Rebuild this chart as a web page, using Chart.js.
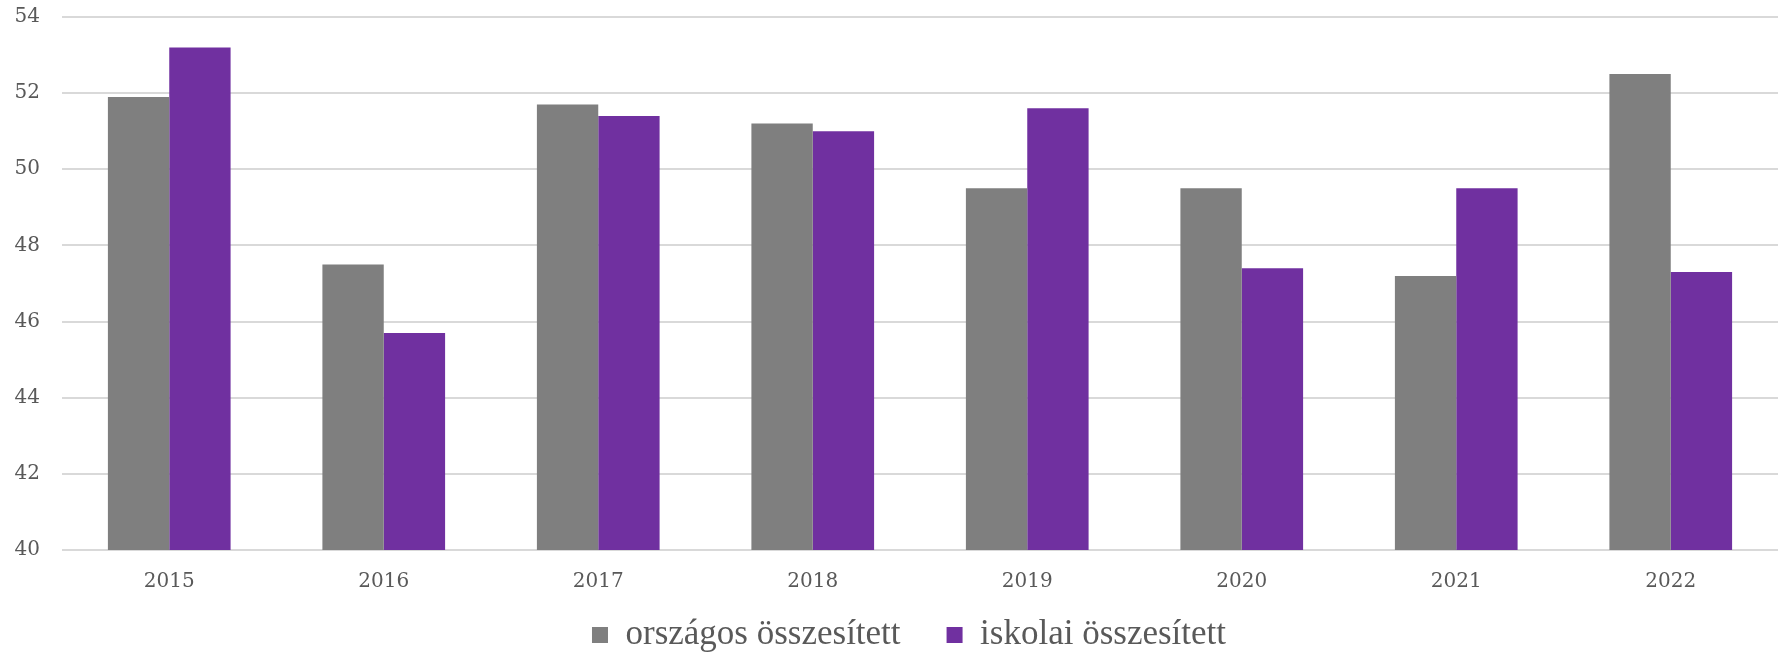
<!DOCTYPE html>
<html>
<head>
<meta charset="utf-8">
<script src="https://cdn.jsdelivr.net/npm/chart.js@4"></script>
<style>
  html, body { margin: 0; padding: 0; background: #fff; }
  #wrap { width: 1778px; height: 654px; }
</style>
</head>
<body>
<div id="wrap"><canvas id="chart"></canvas></div>
<script>
// chart data
const years = ["2015", "2016", "2017", "2018", "2019", "2020", "2021", "2022"];
const orszagos = [51.9, 47.5, 51.7, 51.2, 49.5, 49.5, 47.2, 52.5];
const iskolai = [53.2, 45.7, 51.4, 51.0, 51.6, 47.4, 49.5, 47.3];
const yTicks = [40, 42, 44, 46, 48, 50, 52, 54];

const ctx = document.getElementById("chart").getContext("2d");

// put the legend where the original picture has it (centered around x = 909)
const legendShift = {
  id: "legendShift",
  afterLayout(chart) {
    const lg = chart.legend;
    const p = lg.options.labels.padding;
    const startX = 909 - (lg.lineWidths[0] - p) / 2;
    lg.right = 2 * startX - lg.left - p + lg.lineWidths[0];
    lg.top = 571.5;
  }
};

new Chart(ctx, {
  type: "bar",
  data: {
    labels: years,
    datasets: [{
      label: "országos összesített",
      data: orszagos,
      backgroundColor: "#7f7f7f"
    }, {
      label: "iskolai összesített",
      data: iskolai,
      backgroundColor: "#7030a0"
    }]
  },
  options: {
    responsive: true,
    maintainAspectRatio: false,
    animation: false,
    layout: { padding: { top: 17, right: 0, left: 13, bottom: -36 } },
    datasets: {
      bar: { categoryPercentage: 0.572, barPercentage: 1.0 }
    },
    scales: {
      x: {
        grid: { display: false, drawTicks: false },
        border: { display: false },
        ticks: {
          color: "#595959",
          font: { family: "DejaVu Serif", size: 20 },
          padding: 20,
          autoSkip: false,
          maxRotation: 0
        },
        afterFit(s) {
          s.height = 49;
          s.paddingLeft = 0;
          s.paddingRight = 0;
        }
      },
      y: {
        min: 40,
        max: 54,
        afterBuildTicks: function (axis) {
          axis.ticks = yTicks.map(v => ({ value: v }));
        },
        grid: { color: "#d9d9d9", lineWidth: 2, drawTicks: false },
        border: { display: false },
        ticks: {
          color: "#595959",
          font: { family: "DejaVu Serif", size: 20 },
          padding: 22
        },
        afterFit(s) {
          s.width = 49;
          s.paddingTop = 0;
          s.paddingBottom = 0;
        }
      }
    },
    plugins: {
      legend: {
        position: "bottom",
        labels: {
          boxWidth: 16,
          boxHeight: 16,
          padding: 46,
          color: "#595959",
          font: { family: "Liberation Serif", size: 35 }
        }
      },
      tooltip: { enabled: false }
    }
  },
  plugins: [legendShift]
});
</script>
</body>
</html>
